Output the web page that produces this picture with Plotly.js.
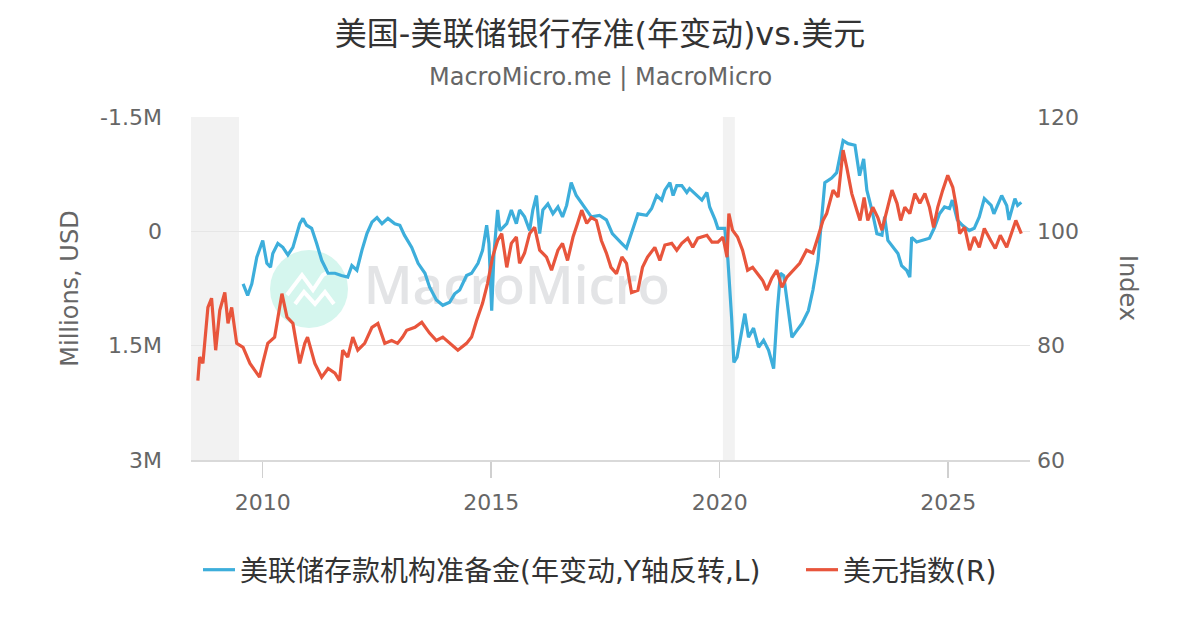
<!DOCTYPE html>
<html>
<head>
<meta charset="utf-8">
<script src="https://cdn.plot.ly/plotly-3.0.1.min.js"></script>
<style>html,body{margin:0;padding:0;background:#fff;}#chart{width:1200px;height:630px;}</style>
</head>
<body>
<div id="chart"></div>
<script>
// Fed depository institutions' reserve balances, year-over-year change (in "M" of millions USD), axis reversed
const reserveYears = [2009.57,2009.67,2009.76,2009.87,2010.0,2010.09,2010.17,2010.22,2010.33,2010.44,2010.55,2010.66,2010.81,2010.88,2010.96,2011.07,2011.18,2011.29,2011.43,2011.58,2011.72,2011.86,2011.95,2012.06,2012.17,2012.28,2012.39,2012.5,2012.61,2012.74,2012.89,2013.0,2013.1,2013.26,2013.4,2013.55,2013.65,2013.8,2013.94,2014.09,2014.2,2014.31,2014.46,2014.57,2014.71,2014.81,2014.9,2014.95,2015.01,2015.06,2015.14,2015.19,2015.34,2015.44,2015.55,2015.62,2015.73,2015.84,2015.91,2015.99,2016.06,2016.13,2016.24,2016.35,2016.46,2016.56,2016.65,2016.75,2016.86,2017.04,2017.19,2017.37,2017.52,2017.65,2017.74,2017.86,2017.96,2018.03,2018.14,2018.21,2018.4,2018.51,2018.62,2018.73,2018.8,2018.91,2018.98,2019.06,2019.17,2019.28,2019.34,2019.5,2019.61,2019.72,2019.78,2019.9,2019.96,2020.11,2020.18,2020.26,2020.31,2020.38,2020.48,2020.55,2020.63,2020.74,2020.85,2020.96,2021.07,2021.18,2021.26,2021.33,2021.4,2021.48,2021.58,2021.69,2021.8,2021.94,2022.04,2022.15,2022.23,2022.3,2022.45,2022.56,2022.7,2022.81,2022.96,2023.06,2023.15,2023.22,2023.33,2023.44,2023.55,2023.61,2023.68,2023.79,2023.9,2023.98,2024.09,2024.16,2024.2,2024.31,2024.44,2024.59,2024.7,2024.81,2024.92,2025.03,2025.09,2025.2,2025.31,2025.46,2025.57,2025.68,2025.79,2025.94,2026.0,2026.17,2026.28,2026.33,2026.46,2026.52,2026.6];
const reserveChange = [0.69,0.84,0.69,0.34,0.12,0.42,0.47,0.29,0.16,0.21,0.31,0.21,-0.10,-0.17,-0.08,-0.04,0.16,0.38,0.55,0.55,0.58,0.60,0.45,0.51,0.25,0.03,-0.12,-0.18,-0.10,-0.17,-0.10,-0.08,0.05,0.21,0.42,0.55,0.73,0.90,0.97,0.93,0.82,0.77,0.58,0.55,0.42,0.25,-0.08,0.16,1.04,0.29,-0.28,-0.01,-0.10,-0.28,-0.10,-0.28,-0.19,-0.01,-0.28,-0.47,0.03,-0.28,-0.36,-0.23,-0.32,-0.19,-0.34,-0.64,-0.47,-0.32,-0.19,-0.21,-0.15,0.03,0.08,0.16,0.22,0.09,-0.10,-0.23,-0.21,-0.30,-0.47,-0.41,-0.54,-0.64,-0.47,-0.60,-0.60,-0.51,-0.56,-0.47,-0.41,-0.51,-0.32,-0.15,-0.04,-0.04,0.38,1.13,1.72,1.65,1.30,1.08,1.39,1.27,1.52,1.43,1.56,1.80,1.04,0.55,0.58,0.95,1.39,1.30,1.21,1.04,0.77,0.38,-0.15,-0.64,-0.70,-0.77,-1.19,-1.15,-1.13,-0.73,-0.95,-0.54,-0.28,0.03,0.05,-0.19,0.12,0.21,0.29,0.45,0.51,0.60,0.08,0.14,0.12,0.09,-0.05,-0.23,-0.32,-0.30,-0.41,-0.15,-0.08,-0.01,-0.04,-0.19,-0.43,-0.34,-0.23,-0.47,-0.34,-0.15,-0.43,-0.34,-0.38];

// US dollar index
const dxyYears = [2008.58,2008.62,2008.69,2008.8,2008.88,2008.97,2009.06,2009.17,2009.24,2009.32,2009.43,2009.57,2009.72,2009.93,2010.0,2010.11,2010.26,2010.42,2010.53,2010.66,2010.81,2010.92,2010.98,2011.14,2011.29,2011.43,2011.58,2011.68,2011.75,2011.86,2011.97,2012.08,2012.23,2012.39,2012.52,2012.67,2012.82,2012.95,2013.06,2013.15,2013.33,2013.48,2013.65,2013.8,2013.94,2014.09,2014.27,2014.46,2014.57,2014.68,2014.81,2014.92,2015.03,2015.14,2015.23,2015.34,2015.44,2015.55,2015.62,2015.73,2015.84,2015.95,2016.06,2016.21,2016.32,2016.46,2016.56,2016.67,2016.79,2016.89,2016.98,2017.09,2017.19,2017.3,2017.41,2017.52,2017.62,2017.74,2017.86,2017.96,2018.07,2018.21,2018.31,2018.42,2018.58,2018.69,2018.8,2018.95,2019.06,2019.17,2019.3,2019.41,2019.52,2019.72,2019.83,2019.96,2020.07,2020.16,2020.2,2020.28,2020.39,2020.5,2020.61,2020.72,2020.83,2020.94,2021.03,2021.14,2021.25,2021.36,2021.47,2021.61,2021.75,2021.9,2022.04,2022.15,2022.26,2022.34,2022.48,2022.59,2022.7,2022.78,2022.89,2023.0,2023.07,2023.16,2023.24,2023.35,2023.46,2023.55,2023.66,2023.77,2023.88,2023.96,2024.05,2024.16,2024.27,2024.38,2024.49,2024.59,2024.68,2024.77,2024.88,2024.99,2025.1,2025.18,2025.25,2025.36,2025.47,2025.57,2025.68,2025.79,2025.93,2026.03,2026.14,2026.28,2026.39,2026.48,2026.6];
const dxyValues = [73.9,78.0,76.9,86.7,88.3,79.2,86.2,89.3,83.9,86.7,80.4,79.7,76.9,74.5,76.9,80.4,81.5,89.1,85.0,83.9,76.9,80.4,81.5,76.9,74.5,76.0,75.2,73.9,79.2,78.0,81.5,79.2,80.4,83.2,83.9,80.4,80.9,80.4,81.5,82.7,83.2,84.1,82.2,80.9,81.5,80.4,79.2,80.4,81.5,84.4,87.4,90.9,95.5,98.4,99.6,93.7,97.9,99.0,94.4,96.2,99.6,100.7,96.7,95.5,93.2,96.7,97.9,94.9,99.0,101.4,103.7,101.4,102.4,101.9,98.4,96.2,93.7,92.6,95.5,94.4,89.3,89.7,93.7,95.5,97.2,94.9,97.6,97.9,96.7,97.9,98.8,97.2,98.8,99.3,98.1,98.1,99.0,95.5,103.1,100.2,99.0,96.7,93.2,93.7,92.6,91.4,89.7,91.8,93.2,90.2,92.0,93.2,94.4,96.7,96.2,99.0,101.9,103.1,107.2,106.0,114.2,111.2,106.6,103.7,101.9,105.9,101.9,104.2,102.4,100.2,103.7,107.2,104.9,101.9,104.2,103.1,106.6,104.9,106.6,104.2,100.7,104.2,107.2,109.8,107.7,104.2,99.6,100.7,96.7,99.0,97.2,100.5,98.4,97.0,99.3,97.2,99.8,101.9,99.6];

const recessions = [[2008.43, 2009.48], [2020.07, 2020.33]];
const xTicks = [2010, 2015, 2020, 2025];
const leftTickVals = [-1.5, 0, 1.5, 3];
const leftTickText = ['-1.5M', '0', '1.5M', '3M'];
const rightTickVals = [60, 80, 100, 120];

const seriesNames = ['美联储存款机构准备金(年变动,Y轴反转,L)', '美元指数(R)'];
const FONT = 'DejaVu Sans, "Noto Sans CJK SC", sans-serif';

// plot-area pixel helpers (for decoration placement only)
const PL = 191, PR = 1030, PT = 117, PB = 460;
const px = x => (x - PL) / (PR - PL);
const py = y => (PB - y) / (PB - PT);

const traces = [
  {x: [2015.56], y: [0.78], text: ['MacroMicro'], mode: 'text', type: 'scatter', showlegend: false,
   hoverinfo: 'skip', textfont: {family: '"Open Sans", DejaVu Sans, sans-serif', size: 53, weight: 600, color: '#e3e4e6'}, yaxis: 'y'},
  {x: reserveYears, y: reserveChange, name: seriesNames[0], type: 'scatter', mode: 'lines',
   line: {color: '#3daedb', width: 3.2}, yaxis: 'y', legend: 'legend'},
  {x: dxyYears, y: dxyValues, name: seriesNames[1], type: 'scatter', mode: 'lines',
   line: {color: '#e8553c', width: 3.2}, yaxis: 'y2', legend: 'legend2'}
];

const shapes = recessions.map(r => ({type: 'rect', xref: 'x', yref: 'paper', x0: r[0], x1: r[1], y0: 0, y1: 1,
  fillcolor: '#f2f2f2', line: {width: 0}, layer: 'below'}));
shapes.push({type: 'circle', xref: 'paper', yref: 'paper', x0: px(270), x1: px(348), y0: py(328), y1: py(250),
  fillcolor: '#d5f6ee', line: {width: 0}, layer: 'below'});
const zig1 = [[287,295],[302,275],[313,290],[323,275],[330,271]];
const zig2 = [[295,304],[304,292],[315,304],[325,292],[334,304]];
[zig1, zig2].forEach(z => {
  shapes.push({type: 'path', xref: 'paper', yref: 'paper', layer: 'below',
    path: z.map((p, i) => (i ? 'L' : 'M') + px(p[0]).toFixed(4) + ',' + py(p[1]).toFixed(4)).join(' '),
    line: {color: '#ffffff', width: 4}});
});

const legendBase = {orientation: 'h', yanchor: 'middle', xanchor: 'left', y: py(570),
  font: {size: 28, color: '#333'}, itemwidth: 32, bgcolor: 'rgba(0,0,0,0)'};

const layout = {
  width: 1200, height: 630,
  margin: {l: PL, r: 1200 - PR, t: PT, b: 630 - PB},
  paper_bgcolor: '#fff', plot_bgcolor: 'rgba(0,0,0,0)',
  font: {family: FONT, color: '#666', size: 22},
  title: {text: '美国-美联储银行存准(年变动)vs.美元', x: 0.5, xanchor: 'center', y: 0.947, yanchor: 'middle',
    font: {family: FONT, size: 32, color: '#333'}},
  xaxis: {type: 'linear', range: [2008.43, 2026.79], tickvals: xTicks, ticktext: xTicks.map(String),
    showgrid: false, zeroline: false, showline: true, linecolor: '#d9d9d9', linewidth: 1.5, ticks: 'outside', ticklen: 16,
    tickcolor: '#d0d0d0', tickwidth: 1.5, ticklabelstandoff: 6, tickfont: {size: 22, color: '#666'}},
  yaxis: {range: [3, -1.5], tickvals: leftTickVals, ticktext: leftTickText, showgrid: true, gridcolor: '#e6e6e6',
    gridwidth: 1.5, zeroline: false, showline: false, ticks: '', ticklabelstandoff: 28, tickfont: {size: 22, color: '#666'},
    title: {text: 'Millions, USD', font: {size: 24, color: '#666'}, standoff: 14}},
  yaxis2: {range: [60, 120], tickvals: rightTickVals, overlaying: 'y', side: 'right', showgrid: false,
    zeroline: false, showline: false, ticks: '', ticklabelstandoff: 6, tickfont: {size: 22, color: '#666'}},
  showlegend: true,
  legend: Object.assign({}, legendBase, {x: px(198)}),
  legend2: Object.assign({}, legendBase, {x: px(801)}),
  shapes: shapes,
  annotations: [
    {text: 'MacroMicro.me | MacroMicro', xref: 'paper', yref: 'paper', x: px(600), y: py(77), showarrow: false,
     font: {size: 24, color: '#666'}, xanchor: 'center', yanchor: 'middle'},
    {text: 'Index', xref: 'paper', yref: 'paper', x: px(1128), y: py(288), showarrow: false, textangle: 90,
     font: {size: 24, color: '#666'}, xanchor: 'center', yanchor: 'middle'}
  ]
};
Plotly.newPlot('chart', traces, layout, {displayModeBar: false, staticPlot: true});
</script>
</body>
</html>
